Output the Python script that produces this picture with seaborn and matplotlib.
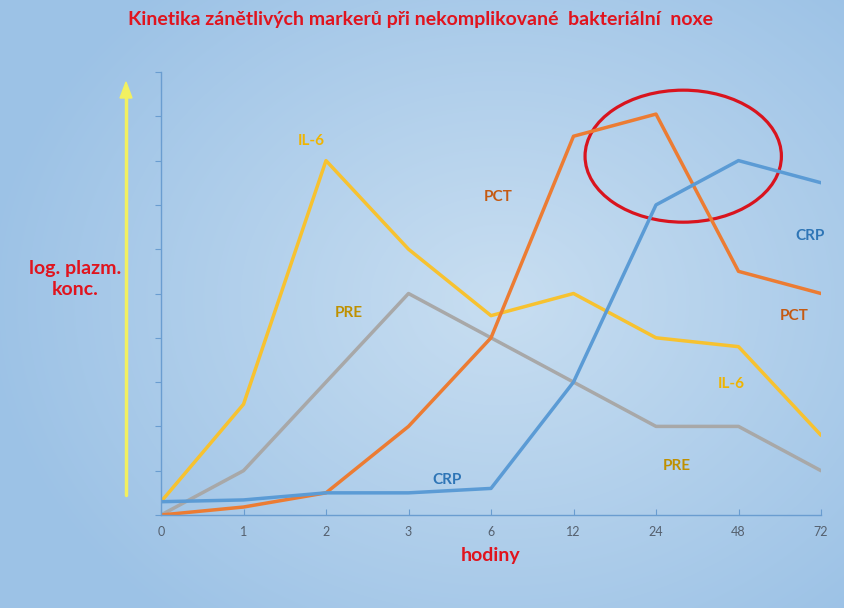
import numpy as np
import pandas as pd
import matplotlib.pyplot as plt
import seaborn as sns
from matplotlib.patches import Ellipse

hours = ['0', '1', '2', '3', '6', '12', '24', '48', '72']
il6 = [0.3, 2.5, 8.0, 6.0, 4.5, 5.0, 4.0, 3.8, 1.8]
pre = [0.0, 1.0, 3.0, 5.0, 4.0, 3.0, 2.0, 2.0, 1.0]
pct = [0.0, 0.18, 0.5, 2.0, 4.0, 8.55, 9.05, 5.5, 5.0]
crp = [0.3, 0.34, 0.5, 0.5, 0.6, 3.0, 7.0, 8.0, 7.5]

series = {'IL-6': il6, 'PRE': pre, 'PCT': pct, 'CRP': crp}
line_colors = {'IL-6': '#F7C230', 'PRE': '#A8A8A8', 'PCT': '#EC7C33', 'CRP': '#5B9BD5'}

df = pd.concat([
    pd.DataFrame({'pos': range(len(hours)), 'value': v, 'marker': k})
    for k, v in series.items()
])

sns.set_style("white")
plt.rcParams['font.family'] = ['Lato', 'DejaVu Sans']

fig = plt.figure(figsize=(8.44, 6.08), dpi=100)

# radial gradient background
bg = fig.add_axes([0, 0, 1, 1])
yy, xx = np.mgrid[0:608, 0:844]
r = np.sqrt(((xx - 500) / 520.0) ** 2 + ((yy - 300) / 420.0) ** 2)
r = np.clip(r, 0, 1)
c0 = np.array([0xC8, 0xDE, 0xF1]) / 255
c1 = np.array([0x9C, 0xC2, 0xE6]) / 255
img = c0[None, None, :] * (1 - r[..., None]) + c1[None, None, :] * r[..., None]
bg.imshow(img, aspect='auto', extent=[0, 1, 0, 1])
bg.axis('off')

ax = fig.add_axes([161 / 844, 1 - 515 / 608, 660 / 844, 443 / 608])
ax.patch.set_alpha(0)
sns.lineplot(data=df, x='pos', y='value', hue='marker', palette=line_colors,
             linewidth=2.5, legend=False, ax=ax)

ax.set_xlim(0, len(hours) - 1)
ax.set_ylim(0, 10)
ax.set_xticks(range(len(hours)))
ax.set_xticklabels(hours)
ax.set_yticks(range(0, 11))
ax.set_yticklabels([])
ax.set_xlabel('')
ax.set_ylabel('')
for s in ['top', 'right']:
    ax.spines[s].set_visible(False)
for s in ['left', 'bottom']:
    ax.spines[s].set_color('#6A9DD0')
    ax.spines[s].set_linewidth(1)
ax.tick_params(axis='both', left=True, bottom=True, length=4,
               color='#6A9DD0', labelsize=9, labelcolor='#55606E')
ax.tick_params(axis='y', direction='out')
ax.tick_params(axis='x', direction='in', pad=8)

ax.add_patch(Ellipse((6.33, 8.1), 2.38, 2.98, fill=False, edgecolor='#D9141E', linewidth=2.3))

labels = [
    ('IL-6', 1.82, 8.45, '#F0B400'),
    ('PCT', 4.09, 7.18, '#C55A11'),
    ('PRE', 2.27, 4.55, '#BF9000'),
    ('CRP', 3.47, 0.8, '#2E75B6'),
    ('CRP', 7.87, 6.3, '#2E75B6'),
    ('PCT', 7.68, 4.5, '#C55A11'),
    ('IL-6', 6.91, 2.95, '#F0B400'),
    ('PRE', 6.25, 1.1, '#BF9000'),
]
for t, x, y, c in labels:
    ax.text(x, y, t, color=c, fontsize=11, fontweight='bold', ha='center', va='center')

red = '#E0141E'
fig.text(421 / 844, 1 - 20 / 608, 'Kinetika zánětlivých markerů při nekomplikované  bakteriální  noxe',
         color=red, fontsize=14, fontweight='bold', ha='center', va='center')
fig.text(491 / 844, 1 - 555 / 608, 'hodiny', color=red, fontsize=14, fontweight='bold',
         ha='center', va='center')
fig.text(75 / 844, 1 - 279 / 608, 'log. plazm.\nkonc.', color=red, fontsize=14,
         fontweight='bold', ha='center', va='center', linespacing=1.3)

fig.add_artist(plt.Line2D([126 / 844, 126 / 844], [1 - 495 / 608, 1 - 95 / 608],
                          color='#F2F060', linewidth=2.5))
fig.patches.append(plt.Polygon([[120 / 844, 1 - 98 / 608], [132 / 844, 1 - 98 / 608],
                                [126 / 844, 1 - 82 / 608]], closed=True,
                               transform=fig.transFigure, color='#F2F060'))

plt.savefig('out.png', dpi=100)
